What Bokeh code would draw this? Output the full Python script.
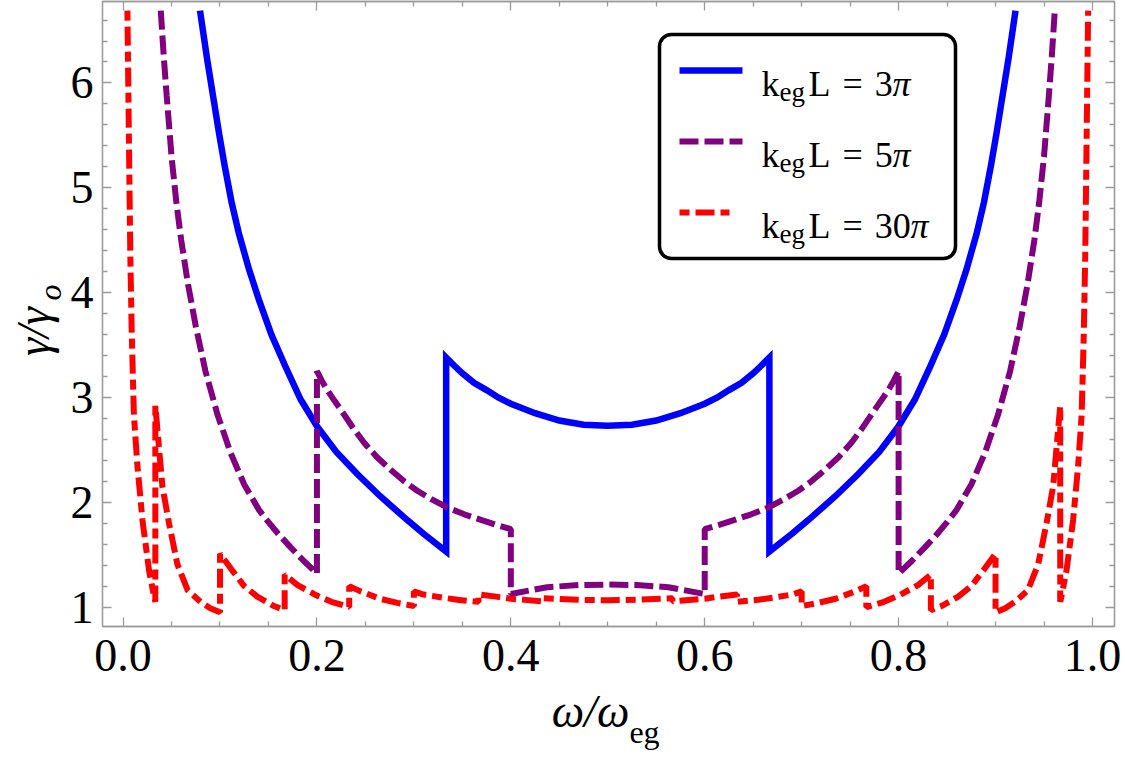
import numpy as np
from bokeh.plotting import figure
from bokeh.models import (Range1d, FixedTicker, NumeralTickFormatter, LinearAxis,
                          Label, BoxAnnotation, CustomJSTickFormatter)
from bokeh.embed import file_html
from bokeh.resources import INLINE

# ---------------- data ----------------
# k_eg L = 3 pi  (solid blue)
x_blue = [0.0794, 0.0865, 0.0938, 0.0990, 0.1048, 0.1120, 0.1196, 0.1300, 0.1402, 0.1530,
          0.1677, 0.1832, 0.2004, 0.2200, 0.2416, 0.2650, 0.2932, 0.3100, 0.3333,
          0.3333, 0.3420, 0.3500, 0.3620, 0.3750, 0.3870, 0.4000, 0.4250, 0.4500, 0.4750, 0.5000,
          0.5250, 0.5500, 0.5750, 0.6000, 0.6130, 0.6250, 0.6380, 0.6500, 0.6580, 0.6667,
          0.6667, 0.6900, 0.7068, 0.7350, 0.7584, 0.7800, 0.7996, 0.8168, 0.8323, 0.8470,
          0.8598, 0.8700, 0.8804, 0.8880, 0.8952, 0.9010, 0.9062, 0.9135, 0.9206]
y_blue = [6.69, 6.24, 5.82, 5.52, 5.21, 4.86, 4.56, 4.22, 3.93, 3.60,
          3.29, 2.98, 2.72, 2.48, 2.27, 2.06, 1.83, 1.70, 1.53,
          3.38, 3.30, 3.23, 3.14, 3.07, 3.00, 2.94, 2.85, 2.78, 2.74, 2.73,
          2.74, 2.78, 2.85, 2.94, 3.00, 3.07, 3.14, 3.23, 3.30, 3.38,
          1.53, 1.70, 1.83, 2.06, 2.27, 2.48, 2.72, 2.98, 3.29, 3.60,
          3.93, 4.22, 4.56, 4.86, 5.21, 5.52, 5.82, 6.24, 6.69]

# k_eg L = 5 pi  (dashed purple)
x_purple = [0.0389, 0.0420, 0.0450, 0.0500, 0.0550, 0.0600, 0.0670, 0.0750, 0.0850, 0.0973,
            0.1110, 0.1250, 0.1400, 0.1500, 0.1600, 0.1729, 0.1865, 0.2000,
            0.2000, 0.2050, 0.2100, 0.2180, 0.2278, 0.2380, 0.2485, 0.2620, 0.2760, 0.2900,
            0.3035, 0.3180, 0.3344, 0.3520, 0.3700, 0.3850, 0.4000,
            0.4000, 0.4375, 0.4700, 0.5000, 0.5300, 0.5625, 0.6000,
            0.6000, 0.6150, 0.6300, 0.6480, 0.6656, 0.6820, 0.6965, 0.7100, 0.7240, 0.7380,
            0.7515, 0.7620, 0.7722, 0.7820, 0.7900, 0.7950, 0.8000,
            0.8000, 0.8135, 0.8271, 0.8400, 0.8500, 0.8600, 0.8750, 0.8890, 0.9027, 0.9150,
            0.9250, 0.9330, 0.9400, 0.9450, 0.9500, 0.9550, 0.9580, 0.9611]
y_purple = [6.69, 6.25, 5.88, 5.30, 4.86, 4.50, 4.08, 3.68, 3.25, 2.84,
            2.47, 2.17, 1.93, 1.81, 1.70, 1.57, 1.44, 1.32,
            3.25, 3.16, 3.08, 2.97, 2.84, 2.70, 2.57, 2.43, 2.31, 2.20,
            2.11, 2.03, 1.95, 1.885, 1.83, 1.785, 1.745,
            1.125, 1.19, 1.21, 1.215, 1.21, 1.19, 1.125,
            1.745, 1.785, 1.83, 1.885, 1.95, 2.03, 2.11, 2.20, 2.31, 2.43,
            2.57, 2.70, 2.84, 2.97, 3.08, 3.16, 3.25,
            1.32, 1.44, 1.57, 1.70, 1.81, 1.93, 2.17, 2.47, 2.84, 3.25,
            3.68, 4.08, 4.50, 4.86, 5.30, 5.88, 6.25, 6.69]

# k_eg L = 30 pi  (dot-dashed red)
x_red = [0.0045, 0.0062, 0.0075, 0.0090, 0.0112, 0.0148, 0.0200, 0.0268, 0.0316, 0.0333,
         0.0333, 0.0406, 0.0474, 0.0560, 0.0667, 0.0800, 0.0900, 0.1000,
         0.1000, 0.1110, 0.1250, 0.1385, 0.1557, 0.1667,
         0.1667, 0.1800, 0.2000, 0.2150, 0.2333,
         0.2333, 0.2450, 0.2650, 0.2830, 0.3000,
         0.3000, 0.3100, 0.3300, 0.3450, 0.3667,
         0.3667, 0.3850, 0.4000, 0.4333,
         0.4333, 0.4700, 0.5000, 0.5300, 0.5667,
         0.5667, 0.6000, 0.6150, 0.6333,
         0.6333, 0.6550, 0.6700, 0.6900, 0.7000,
         0.7000, 0.7170, 0.7350, 0.7550, 0.7667,
         0.7667, 0.7850, 0.8000, 0.8200, 0.8333,
         0.8333, 0.8443, 0.8615, 0.8750, 0.8890, 0.9000,
         0.9000, 0.9100, 0.9200, 0.9333, 0.9440, 0.9526, 0.9594, 0.9667,
         0.9667, 0.9684, 0.9732, 0.9800, 0.9852, 0.9888, 0.9910, 0.9925, 0.9938, 0.9955]
y_red = [6.69, 5.35, 4.35, 3.60, 2.83, 2.35, 1.83, 1.35, 1.12, 1.05,
         2.92, 2.15, 1.80, 1.41, 1.16, 1.05, 0.99, 0.95,
         1.51, 1.37, 1.20, 1.10, 1.01, 0.97,
         1.31, 1.21, 1.11, 1.05, 1.00,
         1.20, 1.15, 1.08, 1.04, 1.01,
         1.15, 1.12, 1.09, 1.07, 1.05,
         1.12, 1.10, 1.08, 1.055,
         1.085, 1.07, 1.065, 1.07, 1.085,
         1.055, 1.08, 1.10, 1.12,
         1.05, 1.07, 1.09, 1.12, 1.15,
         1.01, 1.04, 1.08, 1.15, 1.20,
         1.00, 1.05, 1.11, 1.21, 1.31,
         0.97, 1.01, 1.10, 1.20, 1.37, 1.51,
         0.95, 0.99, 1.05, 1.16, 1.41, 1.80, 2.15, 2.92,
         1.05, 1.12, 1.35, 1.83, 2.35, 2.83, 3.60, 4.35, 5.35, 6.69]

series_values = ["3", "5", "30"]
x_major = [0.0, 0.2, 0.4, 0.6, 0.8, 1.0]
x_minor = [0.05, 0.1, 0.15, 0.25, 0.3, 0.35, 0.45, 0.5, 0.55, 0.65, 0.7, 0.75, 0.85, 0.9, 0.95]
y_major = [1, 2, 3, 4, 5, 6]
y_minor = [1.2, 1.4, 1.6, 1.8, 2.2, 2.4, 2.6, 2.8, 3.2, 3.4, 3.6, 3.8,
           4.2, 4.4, 4.6, 4.8, 5.2, 5.4, 5.6, 5.8, 6.2, 6.4, 6.6]

# ---------------- layout ----------------
W, H = 1125, 767
FL, FR, FT, FB = 102, 1114, 1, 626
X0, X1 = -0.0212, 1.0227
Y0, Y1 = 0.815, 6.777
FRAME = "#9a9a9a"
FONT = "Liberation Serif"
BLUE, PURPLE, RED = "#0000ff", "#800080", "#ff0000"
SP = "\u2004"


def px_x(px):
    return X0 + (px - FL) / (FR - FL) * (X1 - X0)


def px_y(py):
    return Y1 - (py - FT) / (FB - FT) * (Y1 - Y0)


def text(px, py, s, size, italic=False):
    # screen units: measured from the frame's bottom-left corner
    return Label(x=px - FL, y=FB - py, x_units="screen", y_units="screen", text=s,
                 text_font=FONT, text_font_size=size, text_color="black",
                 text_font_style="italic" if italic else "normal",
                 text_baseline="alphabetic", text_align="left")


p = figure(width=W, height=H, x_range=Range1d(X0, X1), y_range=Range1d(Y0, Y1),
           output_backend="svg", toolbar_location=None,
           min_border_left=FL, min_border_right=W - FR,
           min_border_top=FT, min_border_bottom=H - FB)
p.title.visible = False
p.grid.visible = False
p.outline_line_color = FRAME
p.outline_line_width = 1.3
p.background_fill_color = "white"
p.border_fill_color = "white"

xt = FixedTicker(ticks=x_major, minor_ticks=x_minor)
yt = FixedTicker(ticks=y_major, minor_ticks=y_minor)


def style(ax, show):
    ax.axis_line_color = FRAME
    ax.axis_line_width = 1.3
    ax.major_tick_line_color = FRAME
    ax.minor_tick_line_color = FRAME
    ax.major_tick_line_width = 1.3
    ax.minor_tick_line_width = 1.3
    ax.major_tick_in = 9
    ax.major_tick_out = 0
    ax.minor_tick_in = 5
    ax.minor_tick_out = 0
    ax.major_label_text_font = FONT
    if show:
        ax.major_label_text_color = "black"
        ax.major_label_text_font_size = "46px"
    else:
        ax.major_label_text_color = None
        ax.major_label_text_font_size = "0px"
        ax.major_label_standoff = 0


p.xaxis.ticker = xt
p.yaxis.ticker = yt
p.xaxis.formatter = NumeralTickFormatter(format="0.0")
p.yaxis.formatter = NumeralTickFormatter(format="0")
style(p.xaxis[0], True)
style(p.yaxis[0], True)
p.xaxis.major_label_standoff = 13
p.yaxis.major_label_standoff = 9

top_ax = LinearAxis(ticker=xt)
style(top_ax, False)
p.add_layout(top_ax, "above")
right_ax = LinearAxis(ticker=yt)
style(right_ax, False)
p.add_layout(right_ax, "right")


# ---------------- axis titles (as single-tick label-only axes) ----------------
def title_axis(pos, s, size, italic, standoff, vertical=False):
    ax = LinearAxis(ticker=FixedTicker(ticks=[pos], minor_ticks=[]),
                    formatter=CustomJSTickFormatter(code="return %r;" % s))
    ax.axis_line_color = None
    ax.major_tick_line_color = None
    ax.minor_tick_line_color = None
    ax.major_tick_in = 0
    ax.major_tick_out = 0
    ax.major_label_text_font = FONT
    ax.major_label_text_font_size = size
    ax.major_label_text_color = "black"
    ax.major_label_text_font_style = "italic" if italic else "normal"
    ax.major_label_standoff = standoff
    if vertical:
        ax.major_label_orientation = "vertical"
    return ax


# x title: "ω/ω" then subscript "eg"
p.add_layout(title_axis(px_x(590), "\u03c9/\u03c9", "46px", True, 12), "below")
p.add_layout(title_axis(px_x(644), "eg", "32px", False, -26), "below")
# y title: subscript "o" (closer axis) then "γ/γ"
p.add_layout(title_axis(px_y(292), "o", "32px", True, 0, vertical=True), "left")
p.add_layout(title_axis(px_y(331), "\u03b3/\u03b3", "46px", True, -30, vertical=True), "left")

# ---------------- curves ----------------
p.line(x_blue, y_blue, line_color=BLUE, line_width=6.5, line_join="miter")
p.line(x_purple, y_purple, line_color=PURPLE, line_width=6, line_dash="19 6")
p.line(x_red, y_red, line_color=RED, line_width=6, line_dash="10 6 19 6")

# ---------------- legend ----------------
box = BoxAnnotation(left=px_x(659), right=px_x(955), top=px_y(34), bottom=px_y(258),
                    fill_color="white", fill_alpha=1.0, line_color="black", line_alpha=1.0,
                    line_width=3.5, border_radius=12, level="underlay")
p.add_layout(box)

rows = [(70, BLUE, None, 742), (141, PURPLE, "19 6", 742), (212, RED, "10 6 19 6", 729)]
for (ry, col, dash, xend), val in zip(rows, series_values):
    kw = dict(line_color=col, line_width=6.5 if dash is None else 6)
    if dash:
        kw["line_dash"] = dash
    p.line([px_x(679), px_x(xend)], [px_y(ry), px_y(ry)], **kw)
    base = ry + 13
    p.add_layout(text(761, base, "k", "36px"))
    p.add_layout(text(779, base + 8, "eg", "27px"))
    p.add_layout(text(808, base, "L" + SP + "=" + SP + val, "36px"))
    p.add_layout(text(892 + 18 * (len(val) - 1), base, "\u03c0", "36px", italic=True))

open("out.html", "w").write(file_html(p, INLINE))
